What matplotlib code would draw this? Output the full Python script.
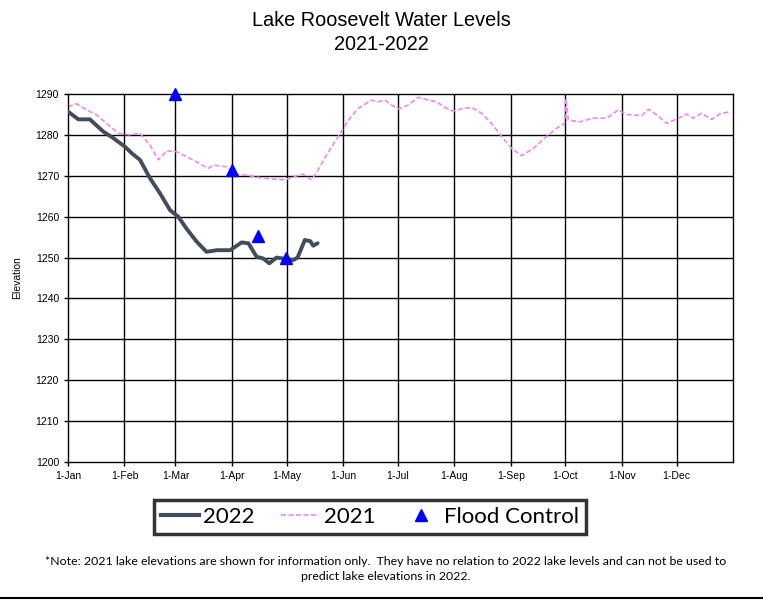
import matplotlib
matplotlib.use('Agg')
import matplotlib.pyplot as plt
from matplotlib.lines import Line2D

# day of year (0 = 1-Jan) and elevation in feet
days_2022 = [0, 5.7, 12, 19.4, 24.9, 31.3, 35, 39.5, 45, 50.5, 56, 60.5, 65, 70.6, 76,
             81.6, 89, 95.3, 99, 103.5, 107, 110.5, 114.5, 123.7, 126, 130, 133, 134.6, 137]
elev_2022 = [1285.7, 1283.8, 1283.8, 1280.8, 1279.2, 1277.1, 1275.5, 1273.9, 1269.4, 1265.7,
             1261.6, 1260.0, 1257.1, 1253.9, 1251.4, 1251.8, 1251.8, 1253.7, 1253.5, 1250.2,
             1249.8, 1248.6, 1250.0, 1249.4, 1250.0, 1254.3, 1254.0, 1252.9, 1253.5]

days_2021 = [0, 4.8, 10.2, 15.7, 21.2, 27.6, 34, 39.5, 45, 49.6, 54.2, 59.6, 65, 70.6, 77,
             79.8, 87, 92.6, 99.9, 107, 119, 125.5, 129, 133.7, 136.5, 142, 150, 154.8, 159.3,
             166.7, 170.3, 174, 177.6, 181.3, 186.8, 192.3, 197.8, 202.4, 206, 211.5, 217,
             221.6, 227, 232.5, 238, 243.5, 249, 255.4, 262.7, 268.2, 272.5, 273.4, 274.6,
             281, 288.3, 295.7, 302, 306.6, 314.9, 318.5, 323.1, 328.6, 334.1, 339.6, 343.2,
             347.8, 353.3, 357.8, 363.3]
elev_2021 = [1286.9, 1287.6, 1286.1, 1284.9, 1282.8, 1280.4, 1280.0, 1280.4, 1277.5, 1273.9,
             1276.1, 1275.9, 1274.7, 1273.4, 1271.8, 1272.6, 1272.2, 1270.4, 1270.0, 1269.4,
             1269.0, 1270.0, 1270.4, 1269.0, 1270.8, 1275.1, 1280.8, 1284.1, 1286.5, 1288.5,
             1288.1, 1288.5, 1287.3, 1286.3, 1287.3, 1289.2, 1288.5, 1288.1, 1286.9, 1285.8,
             1286.5, 1286.7, 1285.3, 1282.8, 1279.6, 1276.7, 1274.9, 1276.7, 1279.6, 1281.6,
             1282.8, 1288.9, 1283.6, 1283.2, 1284.1, 1284.1, 1286.1, 1285.0, 1284.7, 1286.3,
             1284.9, 1282.8, 1283.9, 1285.1, 1284.1, 1285.3, 1283.8, 1285.1, 1285.7]

flood_days = [59, 90, 104.5, 119.5]
flood_elev = [1290, 1271.5, 1255.3, 1250.0]

month_starts = [0, 31, 59, 90, 120, 151, 181, 212, 243, 273, 304, 334]
month_labels = ['1-Jan', '1-Feb', '1-Mar', '1-Apr', '1-May', '1-Jun',
                '1-Jul', '1-Aug', '1-Sep', '1-Oct', '1-Nov', '1-Dec']

plt.rcParams['font.family'] = ['Liberation Sans', 'DejaVu Sans']

fig = plt.figure(figsize=(7.63, 6.0), dpi=100)
ax = fig.add_axes([68 / 763, 138 / 600, 665 / 763, 368 / 600])

# grid
for d in month_starts[1:]:
    ax.axvline(d, color='black', lw=1.0, zorder=1)
for e in range(1210, 1290, 10):
    ax.axhline(e, color='black', lw=1.0, zorder=1)

ax.plot(days_2021, elev_2021, color='#EE88EE', lw=1.2, ls=(0, (3, 1.5)), zorder=2)
ax.plot(days_2022, elev_2022, color='#434C5C', lw=2.8, zorder=3, solid_capstyle='round')
ax.plot(flood_days, flood_elev, ls='none', marker='^', color='#0000FF', ms=8.5,
        clip_on=False, zorder=4)

ax.set_xlim(0, 365)
ax.set_ylim(1200, 1290)
ax.set_xticks(month_starts)
ax.set_xticklabels(month_labels)
ax.set_yticks(range(1200, 1291, 10))
ax.tick_params(axis='both', labelsize=7.5, length=3, width=1, color='black')
for s in ax.spines.values():
    s.set_linewidth(1.0)
    s.set_color('black')

ax.set_ylabel('Elevation', fontsize=7.5, labelpad=10)

fig.text(0.5, 1 - 21 / 600, 'Lake Roosevelt Water Levels', ha='center', va='center', fontsize=14.3)
fig.text(0.5, 1 - 44 / 600, '2021-2022', ha='center', va='center', fontsize=14.3)

handles = [Line2D([], [], color='#434C5C', lw=3),
           Line2D([], [], color='#EE88EE', lw=1.2, ls=(0, (3, 1.5))),
           Line2D([], [], ls='none', marker='^', color='#0000FF', ms=8)]
leg = fig.legend(handles, ['2022', '2021', 'Flood Control'], loc='center',
                 bbox_to_anchor=(370 / 763, 1 - 517 / 600), ncol=3, frameon=True,
                 fancybox=False, edgecolor='black', handlelength=1.7, handletextpad=0.2,
                 columnspacing=1.2, borderpad=0.3,
                 prop={'family': ['Lato', 'DejaVu Sans'], 'size': 16})
leg.get_frame().set_linewidth(2.5)

note = ('*Note: 2021 lake elevations are shown for information only.  They have no relation to 2022 lake levels and can not be used to\n'
        'predict lake elevations in 2022.')
fig.text(386 / 763, 1 - 569 / 600, note, ha='center', va='center', fontsize=8.9,
         family=['Lato', 'DejaVu Sans'], linespacing=1.45)

fig.add_artist(Line2D([0, 1], [1 - 598 / 600, 1 - 598 / 600], color='black', lw=1.5,
                      transform=fig.transFigure))

fig.savefig('out.png', dpi=100)
